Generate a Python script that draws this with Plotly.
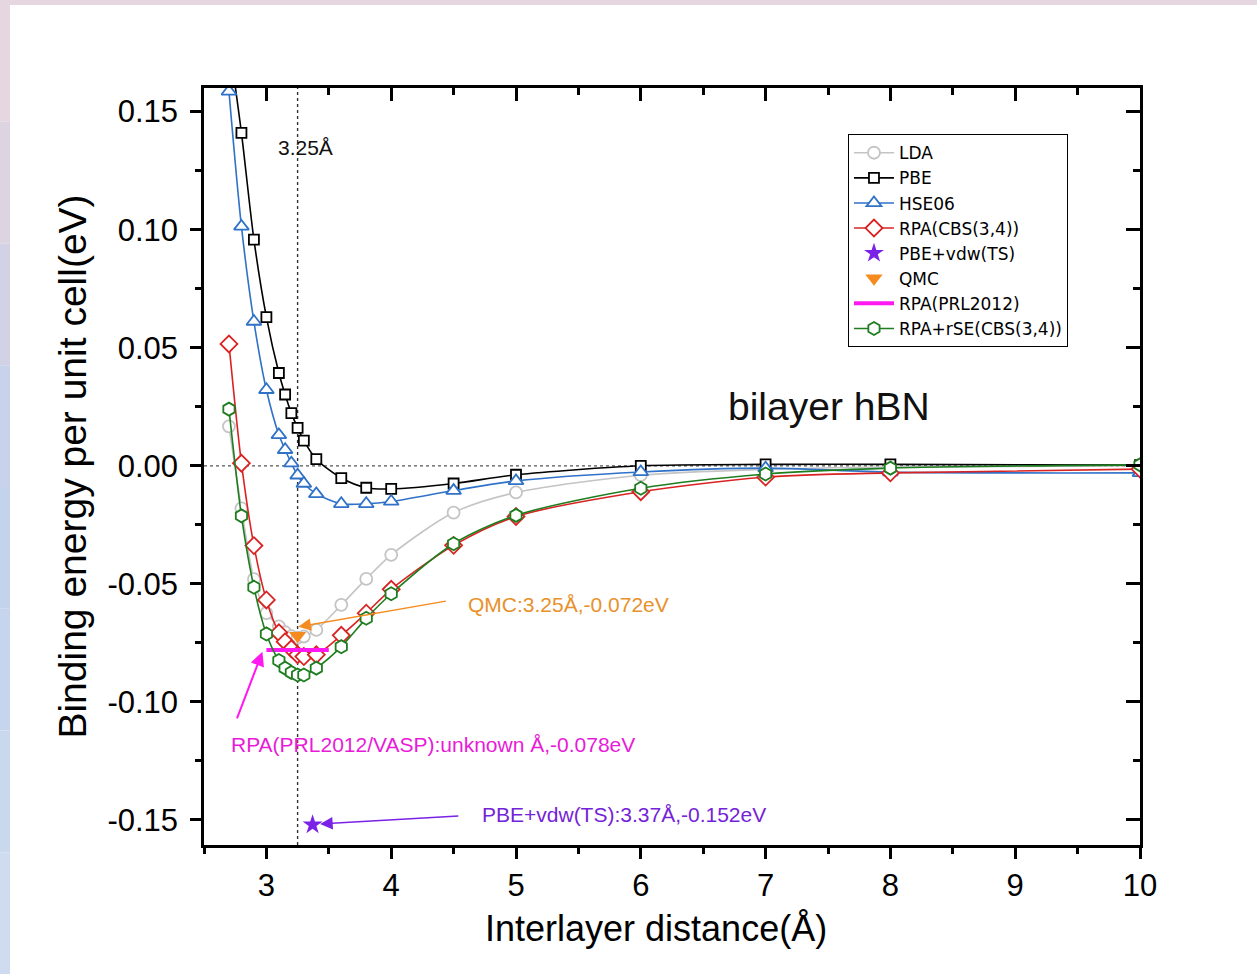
import plotly.graph_objects as go

# ---------------- data ----------------
x_grid = [2.7, 2.8, 2.9, 3.0, 3.1, 3.15, 3.2, 3.25, 3.3, 3.4, 3.6, 3.8, 4.0, 4.5, 5.0, 6.0, 7.0, 8.0, 10.0]

lda = [0.0167, -0.018, -0.048, -0.0624, -0.068, -0.0705, -0.0722, -0.0728, -0.0723, -0.0695,
       -0.0589, -0.0479, -0.0377, -0.0198, -0.0113, -0.0040, -0.0015, -0.0005, 0.0]
pbe = [0.18, 0.141, 0.0958, 0.063, 0.0393, 0.0302, 0.0223, 0.0161, 0.0107, 0.0028,
       -0.0052, -0.0093, -0.0098, -0.0075, -0.0038, 0.0000, 0.0006, 0.0006, 0.0003]
hse = [0.1586, 0.1014, 0.0611, 0.0322, 0.0131, 0.0068, 0.0011, -0.0040, -0.0075, -0.0119,
       -0.0161, -0.0161, -0.0151, -0.0105, -0.0064, -0.0026, -0.0010, -0.0027, -0.0030]
rpa = [0.0516, 0.0011, -0.0338, -0.0568, -0.0707, -0.0745, -0.0775, -0.0800, -0.0808, -0.0800,
       -0.0718, -0.0624, -0.0523, -0.0337, -0.0215, -0.0110, -0.0048, -0.0030, -0.0014]
rpa_rse = [0.0240, -0.0212, -0.0514, -0.0712, -0.0825, -0.0857, -0.0875, -0.0886, -0.0886, -0.0857,
           -0.0766, -0.0646, -0.0542, -0.0330, -0.0210, -0.0095, -0.0035, -0.0010, 0.0004]

pbe_vdw_x = [3.37]
pbe_vdw_y = [-0.152]
qmc_x = [3.25]
qmc_y = [-0.072]
prl_x = [3.0, 3.5]
prl_y = [-0.078, -0.078]

ref_x = 3.25
ref_y = 0.0

x_ticks = [3, 4, 5, 6, 7, 8, 9, 10]
x_ticktext = ["3", "4", "5", "6", "7", "8", "9", "10"]
y_ticks = [-0.15, -0.10, -0.05, 0.0, 0.05, 0.10, 0.15]
y_ticktext = ["-0.15", "-0.10", "-0.05", "0.00", "0.05", "0.10", "0.15"]

# ---------------- style ----------------
FONT = "Liberation Sans, Arial, Helvetica, sans-serif"
LEG_FONT = "DejaVu Sans, Liberation Sans, Arial, sans-serif"
C_LDA = "#C4C4C4"
C_PBE = "#000000"
C_HSE = "#2F72C8"
C_RPA = "#D92323"
C_RSE = "#1E7D1E"
C_VDW = "#7A22E6"
C_QMC = "#F58B1F"
C_PRL = "#FF19F0"

fig = go.Figure()


def line_series(name, y, color, symbol, size):
    fig.add_trace(go.Scatter(
        x=x_grid, y=y, name=name, mode="lines+markers",
        line=dict(color=color, width=1.6, shape="spline", smoothing=0.8),
        marker=dict(symbol=symbol, size=size, color="white",
                    line=dict(color=color, width=1.8)),
        cliponaxis=True,
    ))


line_series("LDA", lda, C_LDA, "circle", 12)
line_series("PBE", pbe, C_PBE, "square", 10)
line_series("HSE06", hse, C_HSE, "triangle-up", 13)
line_series("RPA(CBS(3,4))", rpa, C_RPA, "diamond", 13)

fig.add_trace(go.Scatter(x=pbe_vdw_x, y=pbe_vdw_y, name="PBE+vdw(TS)", mode="markers",
                         marker=dict(symbol="star", size=15, color=C_VDW)))
fig.add_trace(go.Scatter(x=qmc_x, y=qmc_y, name="QMC", mode="markers",
                         marker=dict(symbol="triangle-down", size=15, color=C_QMC)))
fig.add_trace(go.Scatter(x=prl_x, y=prl_y, name="RPA(PRL2012)", mode="lines",
                         line=dict(color=C_PRL, width=4)))
line_series("RPA+rSE(CBS(3,4))", rpa_rse, C_RSE, "hexagon", 13)

# reference dotted lines
fig.add_shape(type="line", x0=ref_x, x1=ref_x, y0=0, y1=1, xref="x", yref="paper",
              line=dict(color="#333333", width=1.4, dash="dot"), layer="below")
fig.add_shape(type="line", x0=0, x1=1, y0=ref_y, y1=ref_y, xref="paper", yref="y",
              line=dict(color="#555555", width=1.2, dash="dot"), layer="below")

# decorative page border (gradient strip on left, strip on top)
band_colors = ["#E6D6DF", "#DDD4E2", "#D2D1E6", "#C8D2EA", "#C3D3EC", "#C6D5ED", "#CAD8EE", "#CFDBEF"]
n = len(band_colors)
for i, c in enumerate(band_colors):
    fig.add_shape(type="rect", xref="paper", yref="paper",
                  x0=-204 / 936, x1=-194 / 936,
                  y0=1 + 88 / 757 - (i + 1) * (974 / 757) / n,
                  y1=1 + 88 / 757 - i * (974 / 757) / n,
                  line=dict(width=0), fillcolor=c, layer="below")
fig.add_shape(type="rect", xref="paper", yref="paper",
              x0=-204 / 936, x1=1 + 117 / 936, y0=1 + 83 / 757, y1=1 + 88 / 757,
              line=dict(width=0), fillcolor="#E6D6DF", layer="below")

# text annotations
ANN = 21
fig.add_annotation(x=3.08, y=0.135, text="3.25Å", showarrow=False, xanchor="left",
                   font=dict(family=FONT, size=ANN, color="#111111"))
fig.add_annotation(x=6.68, y=0.025, text="bilayer hBN", showarrow=False, xanchor="left",
                   font=dict(family=FONT, size=39, color="#111111"))

fig.add_annotation(x=3.256, y=-0.0682, ax=4.45, ay=-0.0572, axref="x", ayref="y",
                   text="", showarrow=True, arrowhead=2, arrowsize=1.8, arrowwidth=1.4,
                   arrowcolor=C_QMC, standoff=0)
fig.add_annotation(x=4.60, y=-0.0589, text="QMC:3.25Å,-0.072eV", showarrow=False, xanchor="left",
                   font=dict(family=FONT, size=ANN, color="#E8912A"))

fig.add_annotation(x=2.968, y=-0.0788, ax=2.76, ay=-0.1076, axref="x", ayref="y",
                   text="", showarrow=True, arrowhead=2, arrowsize=1.4, arrowwidth=2,
                   arrowcolor=C_PRL, standoff=0)
fig.add_annotation(x=2.70, y=-0.1182, text="RPA(PRL2012/VASP):unknown Å,-0.078eV", showarrow=False,
                   xanchor="left", font=dict(family=FONT, size=ANN, color="#E81BD8"))

fig.add_annotation(x=3.43, y=-0.1517, ax=4.55, ay=-0.1483, axref="x", ayref="y",
                   text="", showarrow=True, arrowhead=2, arrowsize=1.8, arrowwidth=1.4,
                   arrowcolor=C_VDW, standoff=0)
fig.add_annotation(x=4.71, y=-0.1475, text="PBE+vdw(TS):3.37Å,-0.152eV", showarrow=False,
                   xanchor="left", font=dict(family=FONT, size=ANN, color="#7423D8"))

# x-axis title (placed slightly left of centre, as in the reference)
fig.add_annotation(x=(656 - 204) / 936, y=-(928 - 845) / 757, xref="paper", yref="paper",
                   text="Interlayer distance(Å)", showarrow=False, xanchor="center", yanchor="middle",
                   font=dict(family=FONT, size=36, color="black"))

XR = [2.5, 10]
YR = [-0.1606, 0.16]

fig.update_layout(
    width=1257, height=974,
    paper_bgcolor="white", plot_bgcolor="white",
    margin=dict(l=204, r=117, t=88, b=129),
    font=dict(family=FONT, color="black"),
    showlegend=True,
    legend=dict(x=0.688, y=0.939, xanchor="left", yanchor="top",
                bordercolor="black", borderwidth=1, bgcolor="white",
                font=dict(family=LEG_FONT, size=17), tracegroupgap=0, itemwidth=40),
    xaxis=dict(range=XR, tickvals=x_ticks, ticktext=x_ticktext,
               showline=True, linecolor="black", linewidth=2.5, mirror=False,
               ticks="outside", ticklen=11, tickwidth=2.5, tickcolor="black",
               minor=dict(ticks="outside", dtick=0.5, tick0=2.5, ticklen=6, tickwidth=2.5, tickcolor="black"),
               showgrid=False, zeroline=False,
               tickfont=dict(family=FONT, size=31)),
    yaxis=dict(range=YR, tickvals=y_ticks, ticktext=y_ticktext,
               showline=True, linecolor="black", linewidth=2.5, mirror=False,
               ticks="outside", ticklen=11, tickwidth=2.5, tickcolor="black",
               minor=dict(ticks="outside", dtick=0.025, tick0=0, ticklen=6, tickwidth=2.5, tickcolor="black"),
               showgrid=False, zeroline=False, ticklabelstandoff=6,
               tickfont=dict(family=FONT, size=31),
               title=dict(text="Binding energy per unit cell(eV)", font=dict(family=FONT, size=39), standoff=9)),
    xaxis2=dict(range=XR, overlaying="x", side="top", anchor="y", tickvals=x_ticks,
                showticklabels=False, showline=True, linecolor="black", linewidth=2.5,
                ticks="inside", ticklen=13, tickwidth=2.5, tickcolor="black",
                minor=dict(ticks="inside", dtick=0.5, tick0=2.5, ticklen=7, tickwidth=2.5, tickcolor="black"),
                showgrid=False, zeroline=False),
    yaxis2=dict(range=YR, overlaying="y", side="right", anchor="x", tickvals=y_ticks,
                showticklabels=False, showline=True, linecolor="black", linewidth=2.5,
                ticks="inside", ticklen=14, tickwidth=2.5, tickcolor="black",
                minor=dict(ticks="inside", dtick=0.025, tick0=0, ticklen=7, tickwidth=2.5, tickcolor="black"),
                showgrid=False, zeroline=False),
)

# invisible trace so the mirrored frame axes are always realised
fig.add_trace(go.Scatter(x=[XR[0]], y=[YR[0]], xaxis="x2", yaxis="y2", mode="markers",
                         marker=dict(opacity=0), showlegend=False, hoverinfo="skip"))

fig.write_html("out.html", config={"displayModeBar": False},
               post_script="document.body.style.margin='0';")
